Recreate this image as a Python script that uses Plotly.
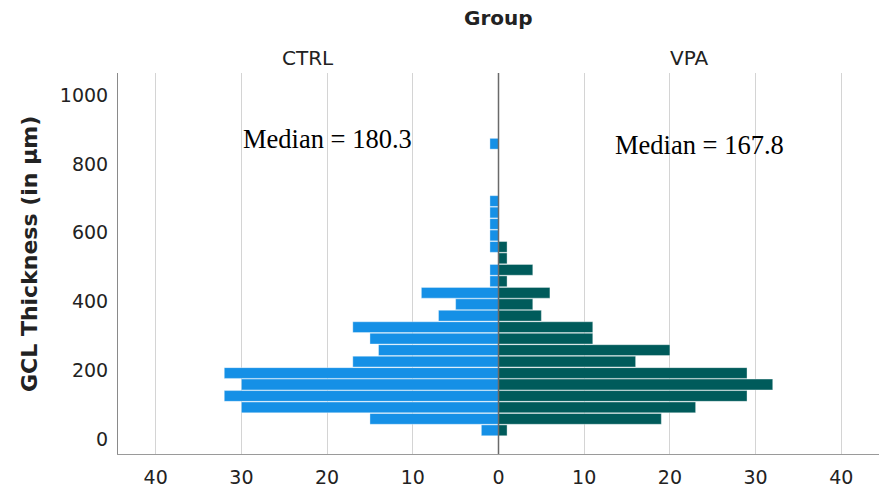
import plotly.graph_objects as go

# Bin centres of GCL thickness (µm)
bin_centers = [26 + 33.3 * k for k in range(26)]
ctrl_counts = [2, 15, 30, 32, 30, 32, 17, 14, 15, 17, 7, 5, 9, 1, 1, 0, 1, 1, 1, 1, 1, 0, 0, 0, 0, 1]
vpa_counts = [1, 19, 23, 29, 32, 29, 16, 20, 11, 11, 5, 4, 6, 1, 4, 1, 1, 0, 0, 0, 0, 0, 0, 0, 0, 0]
x_ticks = [-40, -30, -20, -10, 0, 10, 20, 30, 40]
y_ticks = [0, 200, 400, 600, 800, 1000]
group_names = ["CTRL", "VPA"]
medians = [180.3, 167.8]

ctrl_color = "#1590E6"
vpa_color = "#005B5B"

fig = go.Figure()
fig.add_trace(go.Bar(
    y=bin_centers, x=[-c for c in ctrl_counts], orientation="h",
    marker=dict(color=ctrl_color, line=dict(color="rgba(255,255,255,0.6)", width=0.6)),
    name=group_names[0], showlegend=False,
))
fig.add_trace(go.Bar(
    y=bin_centers, x=vpa_counts, orientation="h",
    marker=dict(color=vpa_color, line=dict(color="rgba(255,255,255,0.6)", width=0.6)),
    name=group_names[1], showlegend=False,
))

tick_font = dict(family="DejaVu Sans", size=19, color="#222")

fig.update_layout(
    width=886, height=491,
    margin=dict(l=118, r=7, t=73, b=37, autoexpand=False),
    paper_bgcolor="white", plot_bgcolor="white",
    barmode="relative", bargap=0.06,
    xaxis=dict(
        range=[-44.4, 44.4], tickvals=x_ticks, ticktext=[str(abs(v)) for v in x_ticks],
        showgrid=True, gridcolor="#d4d4d4", gridwidth=1,
        zeroline=False,
        showline=True, linecolor="#9a9a9a", linewidth=1, mirror=False,
        ticks="", tickfont=tick_font, ticklabelstandoff=6,
    ),
    yaxis=dict(
        range=[-42.7, 1064], tickvals=y_ticks,
        showgrid=False, zeroline=False,
        showline=True, linecolor="#8a8a8a", linewidth=1,
        ticks="", tickfont=tick_font, ticklabelstandoff=5,
    ),
    font=dict(family="DejaVu Sans"),
)

# Centre dividing line drawn above the bars
fig.add_vline(x=0, line=dict(color="#6a6a6a", width=1.5), layer="above")

# Y-axis title (placed slightly above centre as in the reference)
fig.add_annotation(xref="paper", yref="paper", x=0, y=0.525, xshift=-88, xanchor="center", yanchor="middle",
                   textangle=-90, showarrow=False, text="<b>GCL Thickness (in µm)</b>",
                   font=dict(family="DejaVu Sans", size=22, color="#222"))

# Header texts
fig.add_annotation(xref="paper", yref="paper", x=0.5, y=1, yshift=55, text="<b>Group</b>", xanchor="center",
                   showarrow=False, font=dict(family="DejaVu Sans", size=20, color="#222"), yanchor="middle")
fig.add_annotation(xref="paper", yref="paper", x=0.25, y=1, yshift=15, text=group_names[0], xanchor="center",
                   showarrow=False, font=dict(family="DejaVu Sans", size=20, color="#222"), yanchor="middle")
fig.add_annotation(xref="paper", yref="paper", x=0.75, y=1, yshift=15, text=group_names[1], xanchor="center",
                   showarrow=False, font=dict(family="DejaVu Sans", size=20, color="#222"), yanchor="middle")

# Median labels
fig.add_annotation(x=-30.0, y=872, xanchor="left", yanchor="middle", showarrow=False,
                   text=f"Median = {medians[0]}", font=dict(family="Liberation Serif", size=26.5, color="black"))
fig.add_annotation(x=13.4, y=855, xanchor="left", yanchor="middle", showarrow=False,
                   text=f"Median = {medians[1]}", font=dict(family="Liberation Serif", size=26.5, color="black"))

fig.write_html("out.html", config={"displayModeBar": False},
               post_script="document.body.style.margin='0';document.body.style.overflow='hidden';")
